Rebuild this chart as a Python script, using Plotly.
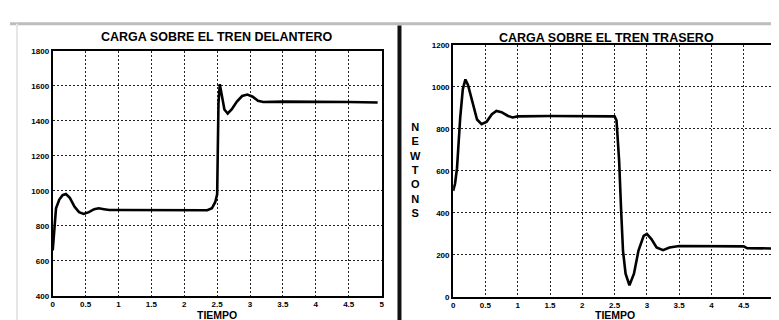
import plotly.graph_objects as go

# ---- data ----
front_t = [0, 0.02, 0.05, 0.1, 0.15, 0.2, 0.26, 0.33, 0.4, 0.47, 0.55, 0.63, 0.7, 0.78, 0.86, 1.0, 1.5, 2.0, 2.35,
           2.42, 2.47, 2.5, 2.51, 2.52, 2.54, 2.57, 2.61, 2.66, 2.72, 2.8, 2.88, 2.96, 3.04, 3.12, 3.2, 3.5, 4.0, 4.5, 4.94]
front_v = [660, 780, 900, 950, 975, 982, 960, 910, 878, 868, 878, 895, 900, 895, 890, 890, 890, 889, 889,
           900, 935, 980, 1200, 1500, 1610, 1540, 1465, 1442, 1465, 1510, 1542, 1550, 1538, 1515, 1508, 1510, 1510, 1508, 1505]

rear_t = [0, 0.03, 0.06, 0.11, 0.15, 0.19, 0.23, 0.3, 0.37, 0.44, 0.52, 0.6, 0.67, 0.75, 0.85, 0.92, 1.0, 1.5, 2.0, 2.4,
          2.5, 2.53, 2.55, 2.57, 2.6, 2.63, 2.67, 2.73, 2.8, 2.87, 2.95, 3.0, 3.07, 3.15, 3.25, 3.35, 3.5, 4.0, 4.5, 4.55, 5.0]
rear_v = [505, 540, 613, 855, 990, 1036, 1010, 920, 845, 823, 835, 870, 886, 880, 862, 855, 860, 862, 862, 862,
          860, 840, 760, 650, 420, 220, 110, 55, 110, 220, 290, 300, 275, 235, 222, 235, 242, 242, 240, 232, 230]

x_ticks = [0, 0.5, 1, 1.5, 2, 2.5, 3, 3.5, 4, 4.5, 5]
x_labels = ["0", "0.5", "1", "1.5", "2", "2.5", "3", "3.5", "4", "4.5", "5"]
front_yticks = [400, 600, 800, 1000, 1200, 1400, 1600, 1800]
rear_yticks = [0, 200, 400, 600, 800, 1000, 1200]

title_front = "CARGA SOBRE EL TREN DELANTERO"
title_rear = "CARGA SOBRE EL TREN TRASERO"
x_title = "TIEMPO"
y_title = "NEWTONS"

W, H = 779, 320
FONT = "Liberation Sans"

fig = go.Figure()
fig.add_trace(go.Scatter(x=front_t, y=front_v, mode="lines", line=dict(color="black", width=2.6),
                         xaxis="x", yaxis="y", showlegend=False))
fig.add_trace(go.Scatter(x=rear_t, y=rear_v, mode="lines", line=dict(color="black", width=2.6),
                         xaxis="x2", yaxis="y2", showlegend=False))

tickfont = dict(family=FONT, size=8, color="black", weight="bold")
axis_common = dict(showline=True, linecolor="black", linewidth=2, mirror=True,
                   showgrid=True, gridcolor="#222", griddash="2px,2px", gridwidth=1.3,
                   zeroline=False, ticks="", tickfont=tickfont, ticklen=0)

fig.update_layout(
    width=W, height=H, margin=dict(l=0, r=0, t=0, b=0),
    paper_bgcolor="white", plot_bgcolor="white",
    xaxis=dict(domain=[43 / W, 374 / W], range=[0, 5], tickvals=x_ticks, ticktext=x_labels,
               anchor="y", **axis_common),
    yaxis=dict(domain=[1 - 292 / H, 1 - 40 / H], range=[400, 1800], tickvals=front_yticks,
               anchor="x", **axis_common),
    xaxis2=dict(domain=[446 / W, 771 / W], range=[0, 5], tickvals=x_ticks, ticktext=x_labels,
                anchor="y2", **axis_common),
    yaxis2=dict(domain=[1 - 293 / H, 1 - 34 / H], range=[0, 1200], tickvals=rear_yticks,
                anchor="x2", **axis_common),
)

titles = [
    dict(text=title_front, x=208 / W, y=1 - 26 / H),
    dict(text=title_rear, x=600 / W, y=1 - 27 / H),
]
for a in titles:
    fig.add_annotation(text=a["text"], x=a["x"], y=a["y"], xref="paper", yref="paper",
                       showarrow=False, xanchor="center", yanchor="middle",
                       font=dict(family=FONT, size=12.5, color="black", weight="bold"))
for xc in (208, 609):
    fig.add_annotation(text=x_title, x=xc / W, y=0, xref="paper", yref="paper",
                       showarrow=False, xanchor="center", yanchor="bottom", borderpad=0, yshift=1,
                       font=dict(family=FONT, size=10.5, color="black", weight="bold"))

fig.add_annotation(text="<br>".join(list(y_title)), x=408 / W, y=1 - 163 / H, xref="paper", yref="paper",
                   showarrow=False, xanchor="center", yanchor="middle",
                   font=dict(family=FONT, size=11, color="black", weight="bold"))

# page decorations (frame lines of the scanned figure)
fig.add_shape(type="line", xref="paper", yref="paper", x0=0, x1=1, y0=1 - 12 / H, y1=1 - 12 / H,
              line=dict(color="#bdbdbd", width=3))
fig.add_shape(type="line", xref="paper", yref="paper", x0=7 / W, x1=7 / W, y0=0, y1=1 - 12 / H,
              line=dict(color="#e6e6e6", width=2))
fig.add_shape(type="line", xref="paper", yref="paper", x0=392 / W, x1=392 / W, y0=0, y1=1 - 14 / H,
              line=dict(color="#111", width=4))

fig.write_html("out.html")
